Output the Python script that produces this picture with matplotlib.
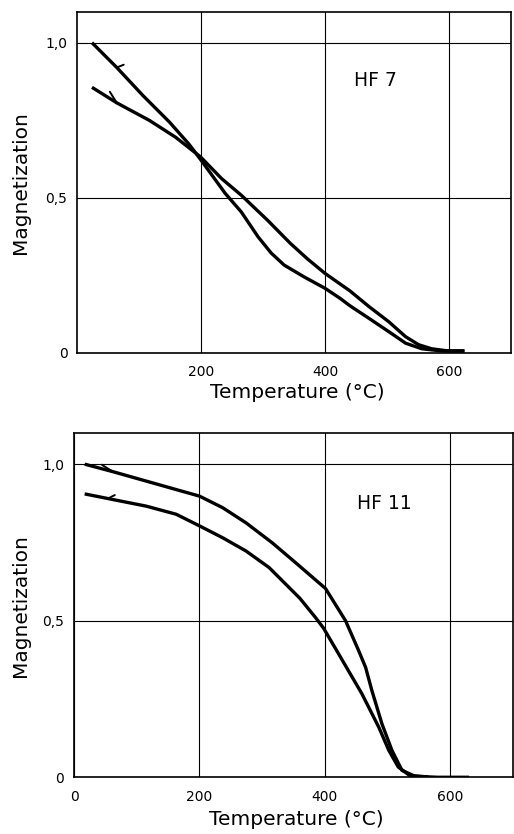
#!/usr/bin/env python3
import numpy as np
import matplotlib
matplotlib.use("Agg")
import matplotlib.pyplot as plt

# ############ HF 7 ######################################
hf7_a_temp = [24, 64, 106, 149, 180, 199, 239, 265, 292, 313, 334, 366,
              400, 424, 440, 471, 503, 530, 556, 588, 625]
hf7_a_mag = [1.0, 0.92, 0.83, 0.744, 0.674, 0.624, 0.514, 0.454, 0.374, 0.322,
             0.283, 0.245, 0.208, 0.176, 0.152, 0.111, 0.068, 0.031, 0.013,
             0.006, 0.006]
hf7_b_temp = [24, 64, 117, 159, 199, 233, 265, 307, 344, 371, 400, 440,
              471, 503, 530, 551, 572, 598, 625]
hf7_b_mag = [0.856, 0.806, 0.749, 0.695, 0.632, 0.562, 0.508, 0.428, 0.353,
             0.304, 0.256, 0.2, 0.149, 0.1, 0.052, 0.026, 0.013, 0.006, 0.006]

# ############ HF 11 ###############
hf11_a_temp = [17, 62, 115, 168, 200, 237, 274, 316, 353, 401, 433, 454,
               465, 475, 491, 507, 523, 544, 580, 630]
hf11_a_mag = [1.0, 0.976, 0.946, 0.916, 0.898, 0.861, 0.813, 0.749, 0.686,
              0.603, 0.5, 0.404, 0.351, 0.277, 0.171, 0.086, 0.022, 0.003,
              0.0, 0.0]
hf11_b_temp = [17, 62, 115, 163, 200, 237, 274, 311, 348, 360, 386, 398,
               422, 459, 486, 502, 517, 535, 565]
hf11_b_mag = [0.905, 0.887, 0.866, 0.84, 0.803, 0.765, 0.723, 0.67, 0.596,
              0.572, 0.508, 0.476, 0.394, 0.267, 0.16, 0.086, 0.033, 0.006,
              0.001]

# temperatures where the small direction barbs sit on each curve
hf7_barb_temp = [64, 64]
hf11_barb_temp = [62, 54]

x_ticks_top = [200, 400, 600]
x_ticks_bottom = [0, 200, 400, 600]
y_ticks = [0, 0.5, 1.0]
y_tick_labels = ["0", "0,5", "1,0"]

line_w = 2.4
label_size = 14.5


def barb(ax, temp, mag, t, dx, dy):
    # small half-arrow mark on the curve, offset in points
    m = np.interp(t, temp, mag)
    ax.annotate("", xy=(t, m), xytext=(dx, dy), textcoords="offset points",
                arrowprops=dict(arrowstyle="-", color="black", lw=1.4,
                                shrinkA=0, shrinkB=0))


def setup_axes(ax, xticks, name, name_xy):
    ax.set_xlim(0, 700)
    ax.set_ylim(0, 1.1)
    ax.set_xticks(xticks)
    ax.set_yticks(y_ticks)
    ax.set_yticklabels(y_tick_labels)
    ax.tick_params(length=0, labelsize=10, pad=7)
    ax.tick_params(axis="x", pad=9)
    ax.grid(True, color="black", lw=0.8)
    for s in ax.spines.values():
        s.set_linewidth(1.2)
    ax.set_xlabel("Temperature (°C)", fontsize=label_size)
    ax.set_ylabel("Magnetization", fontsize=label_size)
    ax.text(name_xy[0], name_xy[1], name, fontsize=13.5, ha="center", va="center")


fig = plt.figure(figsize=(5.14, 8.34), dpi=100)

# ########### top panel ###############
ax1 = fig.add_axes([0.150, 0.577, 0.844, 0.409])
ax1.plot(hf7_a_temp, hf7_a_mag, color="black", lw=line_w, solid_capstyle="butt")
ax1.plot(hf7_b_temp, hf7_b_mag, color="black", lw=line_w, solid_capstyle="butt")
setup_axes(ax1, x_ticks_top, "HF 7", (482, 0.878))
barb(ax1, hf7_a_temp, hf7_a_mag, hf7_barb_temp[0], 5, 2)
barb(ax1, hf7_b_temp, hf7_b_mag, hf7_barb_temp[1], -5, 8)
ax1.xaxis.set_label_coords(0.507, -0.088)
ax1.yaxis.set_label_coords(-0.108, 0.5)

# ########### bottom panel ###############
ax2 = fig.add_axes([0.144, 0.068, 0.854, 0.413])
ax2.plot(hf11_a_temp, hf11_a_mag, color="black", lw=line_w, solid_capstyle="butt")
ax2.plot(hf11_b_temp, hf11_b_mag, color="black", lw=line_w, solid_capstyle="butt")
setup_axes(ax2, x_ticks_bottom, "HF 11", (495, 0.873))
barb(ax2, hf11_a_temp, hf11_a_mag, hf11_barb_temp[0], -8, 5)
barb(ax2, hf11_b_temp, hf11_b_mag, hf11_barb_temp[1], 5, 2.5)
ax2.xaxis.set_label_coords(0.507, -0.095)
ax2.yaxis.set_label_coords(-0.1, 0.5)

fig.savefig("out.png", dpi=100)
